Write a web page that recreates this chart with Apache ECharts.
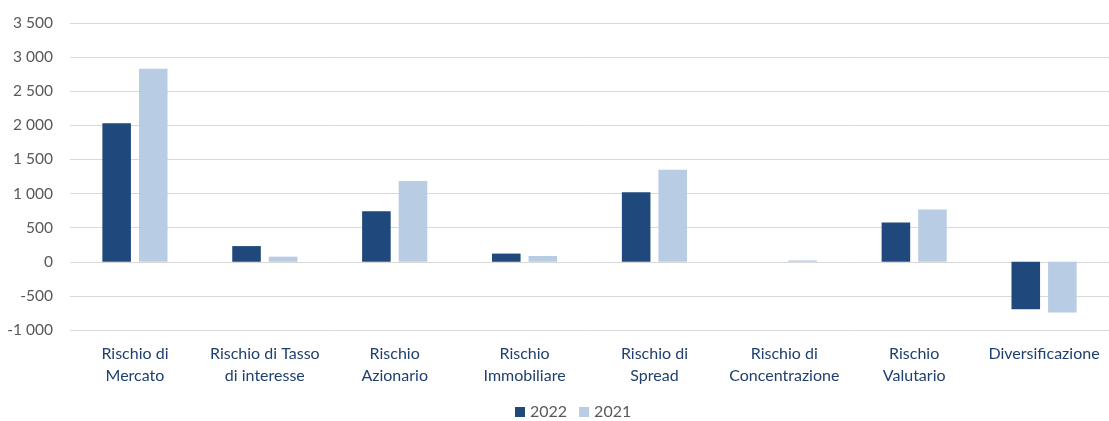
<!DOCTYPE html>
<html>
<head>
<meta charset="utf-8">
<script src="https://cdn.jsdelivr.net/npm/echarts@6/dist/echarts.min.js"></script>
<style>html,body{margin:0;padding:0;background:#fff}#c{width:1109px;height:421px}</style>
</head>
<body>
<div id="c"></div>
<script>
const categories = ["Rischio di\nMercato", "Rischio di Tasso\ndi interesse", "Rischio\nAzionario", "Rischio\nImmobiliare", "Rischio di\nSpread", "Rischio di\nConcentrazione", "Rischio\nValutario", "Diversificazione"];
const values2022 = [2030, 230, 740, 120, 1020, 0, 575, -695];
const values2021 = [2830, 75, 1185, 85, 1350, 20, 765, -745];
const seriesNames = ["2022", "2021"];
const yTicks = { min: -1000, max: 3500, interval: 500 };

const font = "Lato, 'Open Sans', sans-serif";
function fmt(v) {
  const s = Math.abs(v).toString().replace(/\B(?=(\d{3})+(?!\d))/g, " ");
  return (v < 0 ? "-" : "") + s;
}
const chart = echarts.init(document.getElementById('c'));
chart.setOption({
  animation: false,
  grid: { left: 70, right: 0, top: 23, bottom: 91, containLabel: false },
  legend: {
    bottom: -4, left: 510, icon: 'rect', itemWidth: 10, itemHeight: 10, itemGap: 12,
    textStyle: { color: '#595959', fontSize: 16, fontFamily: font },
    data: seriesNames
  },
  xAxis: {
    type: 'category', data: categories, position: 'bottom',
    axisLine: { show: false, onZero: false }, axisTick: { show: false },
    axisLabel: { color: '#1F3F6E', fontSize: 16, fontFamily: font, lineHeight: 22, margin: 13, interval: 0, verticalAlign: 'top' }
  },
  yAxis: {
    type: 'value', min: yTicks.min, max: yTicks.max, interval: yTicks.interval,
    axisLine: { show: false }, axisTick: { show: false },
    axisLabel: { color: '#595959', fontSize: 15.5, fontFamily: font, margin: 17, formatter: fmt },
    splitLine: { lineStyle: { color: '#d9d9d9', width: 1 } }
  },
  series: [
    { name: seriesNames[0], type: 'bar', data: values2022, barWidth: '22%', barGap: '28%', itemStyle: { color: '#1F497D' } },
    { name: seriesNames[1], type: 'bar', data: values2021, barWidth: '22%', barGap: '28%', itemStyle: { color: '#B8CCE4' } }
  ]
});
</script>
</body>
</html>
